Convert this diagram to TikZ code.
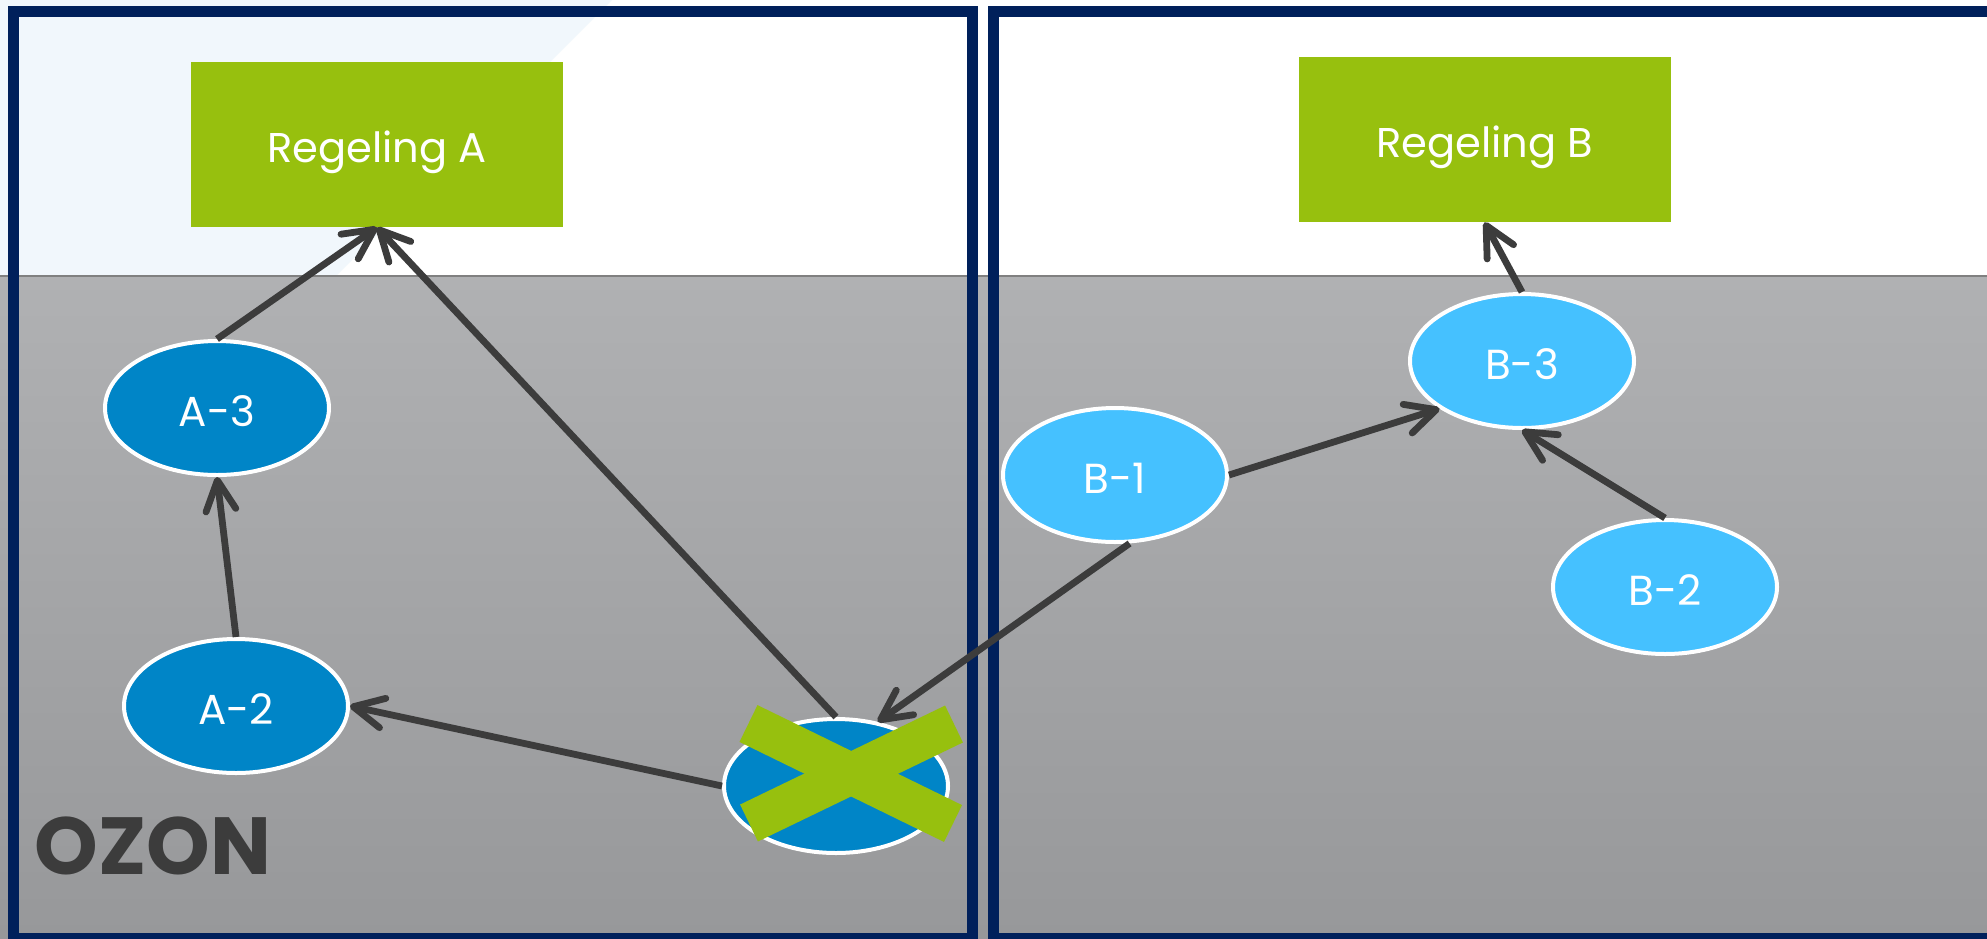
\documentclass[tikz,border=0pt]{standalone}
\usepackage{fontspec}
\setmainfont{Poppins}
\usetikzlibrary{shapes.geometric,arrows.meta,calc}
\definecolor{navy}{HTML}{00205B}
\definecolor{rgreen}{HTML}{97C00E}
\definecolor{dblue}{HTML}{0085C7}
\definecolor{lblue}{HTML}{45C1FF}
\definecolor{arrgray}{HTML}{3C3C3C}
\definecolor{ozongray}{HTML}{3C3C3C}
\definecolor{paleblue}{HTML}{F1F7FC}
\definecolor{graytop}{HTML}{B0B1B3}
\definecolor{graybot}{HTML}{97989A}
\begin{document}
\begin{tikzpicture}[x=0.5pt,y=-0.5pt,
  regbox/.style={fill=rgreen, text=white, minimum width=186pt, minimum height=82.5pt, inner sep=0pt,
    text height=17.5pt, text depth=0pt, font=\fontsize{20.8}{24}\selectfont},
  nodea/.style={ellipse, fill=dblue, draw=white, line width=2pt, minimum width=112pt, minimum height=67pt,
    inner sep=0pt, text height=18pt, text depth=0pt, text=white, font=\fontsize{21}{24}\selectfont},
  nodeb/.style={nodea, fill=lblue},
  arr/.style={draw=arrgray, line width=3.4pt, -{Straight Barb[length=15pt,width=15pt,round]}},
  frame/.style={draw=navy, line width=5.5pt},
  cross/.style={draw=rgreen, line width=20.5pt}]
\clip (0,0) rectangle (1987,938);
\fill[white] (0,0) rectangle (1987,938);
\fill[paleblue] (0,0) -- (612,0) -- (336,276) -- (0,276) -- cycle;
\shade[top color=graytop, bottom color=graybot] (0,276) rectangle (1987,938);
\draw[line width=1pt, color=gray] (0,276) -- (1987,276);
\draw[frame] (13.5,11) rectangle (972.5,938.5);
\draw[frame] (993.5,11) rectangle (2100,938.5);

\node[regbox] (regA) at (377,144.5) {Regeling A};
\node[regbox] (regB) at (1484.5,139.5) {Regeling B};

\node[nodea] (a3) at (217,408) {A-3};
\node[nodea] (a2) at (236,706) {A-2};
\node[nodea] (ax) at (836,786) {};
\node[nodeb] (b1) at (1115,475) {B-1};
\node[nodeb] (b3) at (1522,361) {B-3};
\node[nodeb] (b2) at (1665,587) {B-2};

\draw[arr] (a3.north) -- (regA.south);
\draw[arr] (ax.north) -- (regA.south);
\draw[arr] (a2.north) -- (a3.south);
\draw[arr] (ax.west) -- (a2.east);
\draw[arr] (b1.-78) -- (ax.57);
\draw[arr] (b1.east) -- (b3.210);
\draw[arr] (b2.north) -- (b3.south);
\draw[arr] (b3.north) -- (regB.south);

\draw[cross] (748.5,723.5) -- (953,823.5);
\draw[cross] (749,823) -- (954,724);

\node[anchor=base west, inner sep=0pt, text=ozongray, font=\bfseries\fontsize{40.5}{46}\selectfont] (ozon) at (34,874) {OZON};
\end{tikzpicture}
\end{document}
